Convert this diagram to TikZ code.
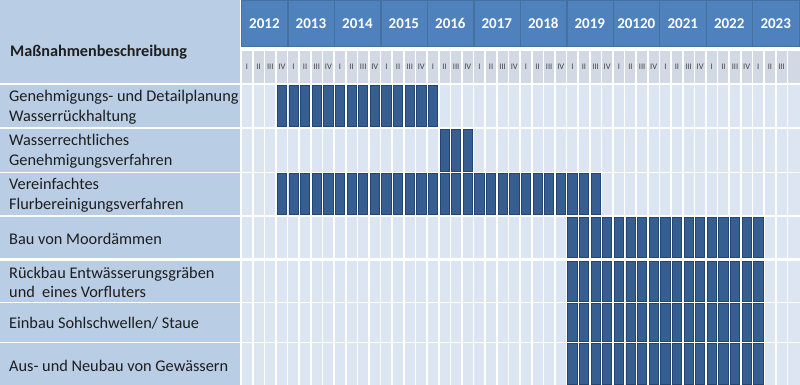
\documentclass[tikz,border=0pt]{standalone}
\usepackage{fontspec}
\setmainfont{Carlito}
\definecolor{leftc}{HTML}{B9CDE5}
\definecolor{cellc}{HTML}{DCE6F2}
\definecolor{quarc}{HTML}{D3D9E4}
\definecolor{yearc}{HTML}{4F81BD}
\definecolor{yearb}{HTML}{45709F}
\definecolor{barc}{HTML}{365E90}
\definecolor{barb}{HTML}{24456F}
\definecolor{txt}{HTML}{1E1E1E}
\tikzset{
  lbl/.style={anchor=west, inner sep=0pt, align=left, text=txt, font=\fontsize{16.3}{19.5}\selectfont},
  yearlbl/.style={text=white, inner sep=0pt, font=\fontsize{15}{16}\selectfont\bfseries},
  qlbl/.style={text=txt!85, inner sep=0pt, font=\fontsize{8.5}{9}\selectfont},
  barcell/.style={fill=barc, draw=barb, line width=0.7pt},
}
\begin{document}
\begin{tikzpicture}[x=1pt,y=-1pt]
\useasboundingbox (0,0) rectangle (800,385);
\fill[white] (0,0) rectangle (800,385);
% header left cell
\fill[leftc] (0,0) rectangle (240,83);
\node[anchor=west, inner sep=0pt, text=txt, font=\fontsize{16.2}{20}\selectfont\bfseries] (hdr) at (10,52) {Maßnahmenbeschreibung};
% years
\foreach \yr [count=\j from 0] in {2012,2013,2014,2015,2016,2017,2018,2019,20120,2021,2022,2023} {
  \pgfmathsetmacro{\xa}{242+46.48*\j-0.6}
  \pgfmathsetmacro{\xb}{min(242+46.48*\j+34.86+10.6,800)}
  \pgfmathsetmacro{\xc}{(\xa+\xb)/2}
  \fill[yearc, draw=yearb, line width=0.5pt] (\xa,0) rectangle (\xb,46);
  \node[yearlbl] (y\yr) at (\xc,23.5) {\yr};
}
% quarters
\foreach \k in {0,...,47} {
  \pgfmathsetmacro{\xa}{242+11.62*\k}
  \pgfmathsetmacro{\xb}{\k==47 ? 800 : 242+11.62*\k+10}
  \fill[quarc] (\xa,51) rectangle (\xb,83);
}
\foreach \k/\q in {0/I,1/II,2/III,3/IV,4/I,5/II,6/III,7/IV,8/I,9/II,10/III,11/IV,12/I,13/II,14/III,15/IV,16/I,17/II,18/III,19/IV,20/I,21/II,22/III,23/IV,24/I,25/II,26/III,27/IV,28/I,29/II,30/III,31/IV,32/I,33/II,34/III,35/IV,36/I,37/II,38/III,39/IV,40/I,41/II,42/III,43/IV,44/I,45/II,46/III} {
  \pgfmathsetmacro{\xc}{242+11.62*\k+5}
  \node[qlbl] (q\k) at (\xc,67) {\q};
}
% rows
\foreach \t/\b/\s/\e [count=\r] in {85/127/3/16, 129/172/17/19, 173/215/3/30, 217/258/28/44, 261/302/28/44, 303/342/28/44, 343/385/28/44} {
  \fill[leftc] (0,\t) rectangle (240,\b);
  \foreach \k in {0,...,47} {
    \pgfmathsetmacro{\xa}{242+11.62*\k}
    \pgfmathsetmacro{\xb}{\k==47 ? 800 : 242+11.62*\k+10}
    \fill[cellc] (\xa,\t) rectangle (\xb,\b);
  }
  \foreach \k in {\s,...,\e} {
    \pgfmathsetmacro{\xa}{242+11.62*\k+0.4}
    \pgfmathsetmacro{\xb}{242+11.62*\k+10-0.4}
    \draw[barcell] (\xa,\t+0.4) rectangle (\xb,\b-0.4);
  }
}
\node[lbl] (r1) at (9,107) {Genehmigungs- und Detailplanung\\Wasserrückhaltung};
\node[lbl] (r2) at (9,151) {Wasserrechtliches\\Genehmigungsverfahren};
\node[lbl] (r3) at (9,195) {Vereinfachtes\\Flurbereinigungsverfahren};
\node[lbl] (r4) at (9,238.5) {Bau von Moordämmen};
\node[lbl] (r5) at (9,282.5) {Rückbau Entwässerungsgräben\\und\ \ eines Vorfluters};
\node[lbl] (r6) at (9,323) {Einbau Sohlschwellen/ Staue};
\node[lbl] (r7) at (9,366) {Aus- und Neubau von Gewässern};
\end{tikzpicture}
\end{document}
